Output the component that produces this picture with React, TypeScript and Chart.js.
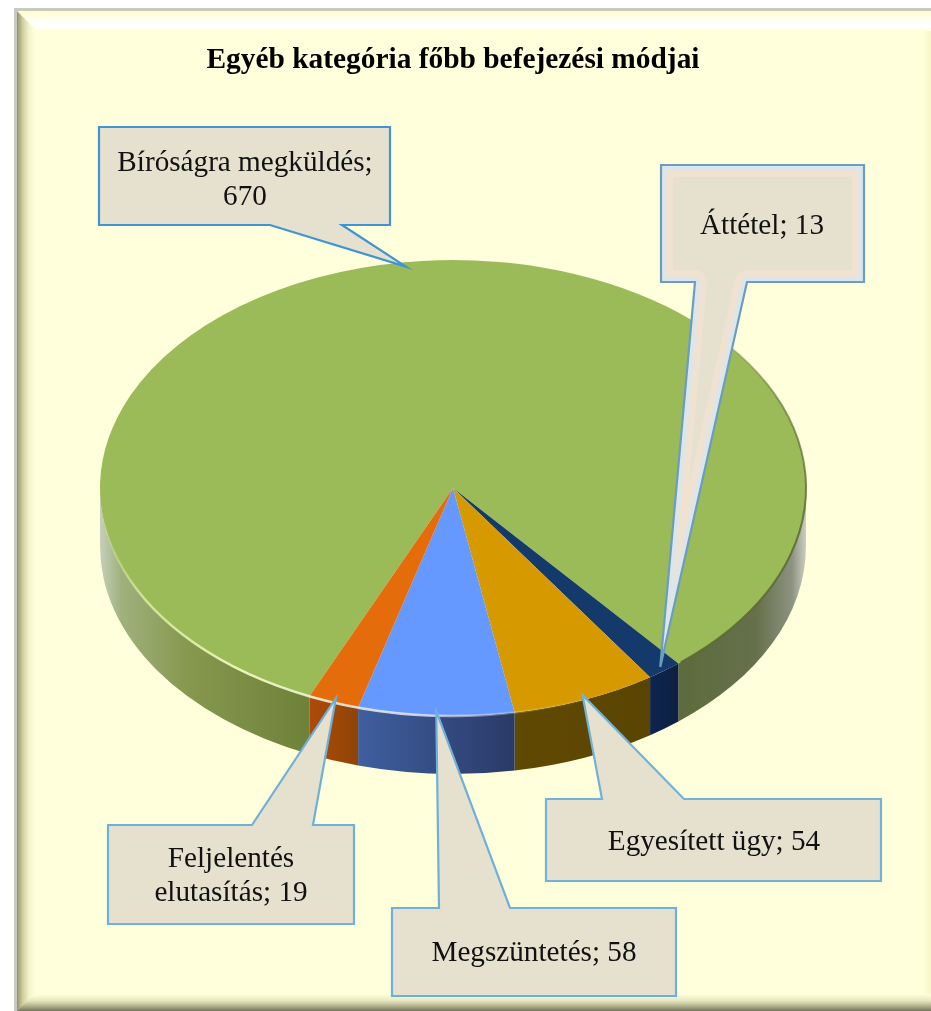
import React, { useEffect, useRef } from "react";
import { Chart, registerables } from "chart.js";

Chart.register(...registerables);

const titleText = "Egyéb kategória főbb befejezési módjai";
const categories = ["Bíróságra megküldés", "Áttétel", "Egyesített ügy", "Megszüntetés", "Feljelentés elutasítás"];
const values = [670, 13, 54, 58, 19];
const topColors = ["#9BBB59", "#143A6C", "#D69A00", "#6699FF", "#E46C0A"];
const lineBreakAfterWord = [2, 0, 0, 0, 1];

const SQUASH = 228 / 353;
const DEPTH = 58;
const TIP_REACH = 0.98;
const BG = "#FFFFDB";

type Callout = { x0: number; y0: number; x1: number; y1: number; edge: "top" | "bottom"; b0: number; b1: number; tx: number; ty: number; glow?: boolean; stroke: string };
const callouts: Callout[] = [
  { x0: 99, y0: 127, x1: 390, y1: 225, edge: "bottom", b0: 270, b1: 342, tx: 245, ty: 180, stroke: "#3F95D3" },
  { x0: 661, y0: 165, x1: 864, y1: 282, edge: "bottom", b0: 695, b1: 747, tx: 762, ty: 226, glow: true, stroke: "#6A9DC0" },
  { x0: 546, y0: 799, x1: 881, y1: 881, edge: "top", b0: 602, b1: 684, tx: 714, ty: 842, stroke: "#72B2D8" },
  { x0: 392, y0: 908, x1: 676, y1: 996, edge: "top", b0: 439, b1: 510, tx: 534, ty: 953, stroke: "#6FB0D8" },
  { x0: 108, y0: 825, x1: 354, y1: 924, edge: "top", b0: 252, b1: 313, tx: 231, ty: 876, stroke: "#6FB0D8" },
];

const wallStops: [number, string][][] = [
  [[0, "#C6CFBA"], [0.03, "#A0B17E"], [0.12, "#86994F"], [0.29, "#6F8239"], [0.8, "#5A6B38"], [0.93, "#66704C"], [0.98, "#8C9280"], [1, "#CBCEC0"]],
  [[0, "#0D2450"], [1, "#0D2040"]],
  [[0, "#604A02"], [1, "#5A4402"]],
  [[0, "#3F5F9F"], [1, "#2A3A68"]],
  [[0, "#AE4A08"], [1, "#8F4407"]],
];

function wrapLabel(i: number): string[] {
  const words = `${categories[i]}; ${values[i]}`.split(" ");
  const n = lineBreakAfterWord[i];
  return n ? [words.slice(0, n).join(" "), words.slice(n).join(" ")] : [words.join(" ")];
}

const framePlugin = {
  id: "frame",
  beforeDraw(chart: any) {
    const { ctx, width: W, height: H } = chart;
    const L = 17, T = 11;
    ctx.save();
    ctx.fillStyle = "#FFFFFF";
    ctx.fillRect(0, 0, W, H);
    ctx.fillStyle = "#C9C9C3";
    ctx.fillRect(L - 3, T - 3, W - L + 3, H);
    ctx.fillStyle = BG;
    ctx.fillRect(L, T, W - L, H - T);
    const poly = (pts: number[][], fill: any) => {
      ctx.beginPath();
      pts.forEach((p, i) => (i ? ctx.lineTo(p[0], p[1]) : ctx.moveTo(p[0], p[1])));
      ctx.closePath();
      ctx.fillStyle = fill;
      ctx.fill();
    };
    const top = ctx.createLinearGradient(0, T, 0, 31);
    top.addColorStop(0, "#FFFFC6");
    top.addColorStop(0.4, "#FFFFF2");
    top.addColorStop(0.8, "#FFFFFF");
    top.addColorStop(1, BG);
    poly([[L, T], [W, T], [W, 31], [L + 20, 31]], top);
    const left = ctx.createLinearGradient(L, 0, L + 19, 0);
    left.addColorStop(0, "#94946A");
    left.addColorStop(0.3, "#CFCF9F");
    left.addColorStop(0.65, "#F5F5CC");
    left.addColorStop(1, BG);
    poly([[L, T], [L + 19, T + 19], [L + 19, H - 17], [L, H]], left);
    const bottom = ctx.createLinearGradient(0, H - 17, 0, H);
    bottom.addColorStop(0, BG);
    bottom.addColorStop(0.4, "#E6E6BE");
    bottom.addColorStop(0.75, "#A9A986");
    bottom.addColorStop(1, "#74745C");
    poly([[L, H], [L + 17, H - 17], [W, H - 17], [W, H]], bottom);
    const right = ctx.createLinearGradient(W - 8, 0, W, 0);
    right.addColorStop(0, BG);
    right.addColorStop(1, "#F6F6C8");
    poly([[W - 8, 31], [W, 31], [W, H - 17], [W - 8, H - 17]], right);
    ctx.restore();
  },
};

const pie3dPlugin = {
  id: "pie3d",
  beforeDatasetsDraw(chart: any) {
    const { ctx } = chart;
    const arcs = chart.getDatasetMeta(0).data;
    const cx = arcs[0].x, cy = arcs[0].y, rx = arcs[0].outerRadius, ry = rx * SQUASH;
    ctx.save();
    arcs.forEach((arc: any, i: number) => {
      const ranges = [[arc.startAngle, arc.endAngle], [arc.startAngle - 2 * Math.PI, arc.endAngle - 2 * Math.PI]];
      ranges.forEach(([s, e]) => {
        const a0 = Math.max(s, 0), a1 = Math.min(e, Math.PI);
        if (a1 <= a0) return;
        const xa = cx + rx * Math.cos(a0), xb = cx + rx * Math.cos(a1);
        const whole = i === 0;
        const g = whole
          ? ctx.createLinearGradient(cx - rx, 0, cx + rx, 0)
          : ctx.createLinearGradient(Math.min(xa, xb), 0, Math.max(xa, xb), 0);
        wallStops[i].forEach(([p, c]) => g.addColorStop(p, c));
        ctx.beginPath();
        ctx.ellipse(cx, cy, rx, ry, 0, a0, a1, false);
        ctx.ellipse(cx, cy + DEPTH, rx, ry, 0, a1, a0, true);
        ctx.closePath();
        ctx.fillStyle = g;
        ctx.fill();
      });
    });
    ctx.restore();
    ctx.save();
    ctx.translate(cx, cy);
    ctx.scale(1, SQUASH);
    ctx.translate(-cx, -cy);
  },
  afterDatasetsDraw(chart: any) {
    const { ctx } = chart;
    ctx.restore();
    const arcs = chart.getDatasetMeta(0).data;
    const cx = arcs[0].x, cy = arcs[0].y, rx = arcs[0].outerRadius, ry = rx * SQUASH;

    const rim = ctx.createLinearGradient(cx - rx, 0, cx + rx, 0);
    rim.addColorStop(0, "rgba(225,245,170,0)");
    rim.addColorStop(0.06, "rgba(225,245,170,0.7)");
    rim.addColorStop(0.2, "rgba(240,250,190,0.95)");
    rim.addColorStop(0.45, "rgba(235,235,255,0.8)");
    rim.addColorStop(0.62, "rgba(240,230,190,0.15)");
    rim.addColorStop(0.72, "rgba(240,230,190,0)");
    ctx.save();
    ctx.beginPath();
    ctx.ellipse(cx, cy, rx, ry, 0, 1.2, Math.PI * 1.02, false);
    ctx.strokeStyle = rim;
    ctx.lineWidth = 2.5;
    ctx.stroke();
    const edge = ctx.createLinearGradient(0, cy - 170, 0, cy + 40);
    edge.addColorStop(0, "rgba(85,105,45,0)");
    edge.addColorStop(0.4, "rgba(85,105,45,0.6)");
    edge.addColorStop(1, "rgba(85,105,45,0.85)");
    ctx.beginPath();
    ctx.ellipse(cx, cy, rx, ry, 0, -0.9, 0.87, false);
    ctx.strokeStyle = edge;
    ctx.lineWidth = 2;
    ctx.stroke();
    ctx.restore();

    arcs.forEach((arc: any, i: number) => {
      const c = callouts[i];
      const mid = (arc.startAngle + arc.endAngle) / 2;
      const tipX = cx + rx * TIP_REACH * Math.cos(mid);
      const tipY = cy + ry * TIP_REACH * Math.sin(mid);
      const path = () => {
        ctx.beginPath();
        ctx.moveTo(c.x0, c.y0);
        if (c.edge === "top") {
          ctx.lineTo(c.b0, c.y0);
          ctx.lineTo(tipX, tipY);
          ctx.lineTo(c.b1, c.y0);
        }
        ctx.lineTo(c.x1, c.y0);
        ctx.lineTo(c.x1, c.y1);
        if (c.edge === "bottom") {
          ctx.lineTo(c.b1, c.y1);
          ctx.lineTo(tipX, tipY);
          ctx.lineTo(c.b0, c.y1);
        }
        ctx.lineTo(c.x0, c.y1);
        ctx.closePath();
      };
      ctx.save();
      path();
      ctx.fillStyle = "#E6E1CE";
      ctx.fill();
      if (c.glow) {
        ctx.save();
        path();
        ctx.clip();
        path();
        ctx.strokeStyle = "#F0E2D0";
        ctx.lineWidth = 24;
        ctx.lineJoin = "round";
        ctx.stroke();
        path();
        ctx.strokeStyle = "#DCE6EA";
        ctx.lineWidth = 11;
        ctx.stroke();
        ctx.restore();
      }
      path();
      ctx.strokeStyle = c.stroke;
      ctx.lineWidth = 2.2;
      ctx.lineJoin = "miter";
      ctx.stroke();

      const lines = wrapLabel(i);
      ctx.fillStyle = "#111111";
      ctx.font = "29.2px 'Liberation Serif'";
      ctx.textAlign = "center";
      ctx.textBaseline = "middle";
      const lh = 34;
      lines.forEach((t, k) => {
        ctx.fillText(t, c.tx, c.ty + (k - (lines.length - 1) / 2) * lh);
      });
      ctx.restore();
    });
  },
};

export default function App() {
  const ref = useRef<HTMLCanvasElement>(null);
  useEffect(() => {
    if (!ref.current) return;
    const chart = new Chart(ref.current, {
      type: "pie",
      data: {
        labels: categories,
        datasets: [{ data: values, backgroundColor: topColors, borderWidth: 0, hoverOffset: 0 }],
      },
      options: {
        responsive: false,
        animation: false,
        rotation: 204,
        events: [],
        layout: { padding: { left: 100, right: 125, top: 43, bottom: 170 } },
        plugins: {
          legend: { display: false },
          tooltip: { enabled: false },
          title: {
            display: true,
            text: titleText,
            color: "#000000",
            font: { family: "'Liberation Serif'", size: 29.4, weight: "bold", lineHeight: "35px" },
            padding: { top: 0, bottom: 57 },
          },
        },
      },
      plugins: [framePlugin, pie3dPlugin],
    } as any);
    return () => chart.destroy();
  }, []);
  return (
    <div style={{ position: "fixed", left: 0, top: 0, width: 931, height: 1011 }}>
      <canvas ref={ref} width={931} height={1011} style={{ display: "block" }} />
    </div>
  );
}
